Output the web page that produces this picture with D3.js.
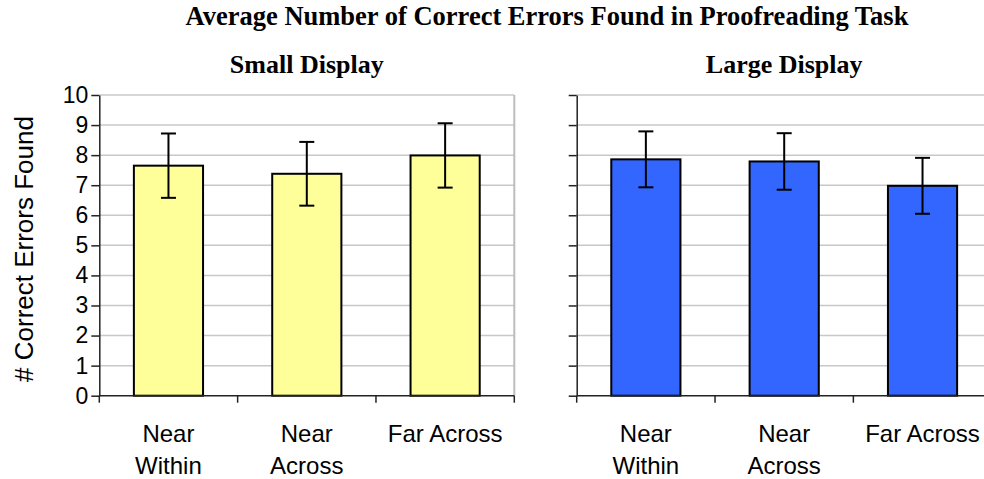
<!DOCTYPE html>
<html>
<head>
<meta charset="utf-8">
<script src="https://cdn.jsdelivr.net/npm/d3@7"></script>
<style>
  html, body { margin: 0; padding: 0; background: #fff; overflow: hidden; }
  svg { display: block; }
</style>
</head>
<body>
<svg id="chart" width="984" height="479"></svg>
<script>
// Mean number of correct errors found, with error-bar half-widths, per display size
const categories = ["Near Within", "Near Across", "Far Across"];
const categoryLines = [["Near", "Within"], ["Near", "Across"], ["Far Across"]];
const smallMeans = [7.65, 7.38, 7.99];
const smallErrors = [1.07, 1.06, 1.07];
const largeMeans = [7.86, 7.79, 6.98];
const largeErrors = [0.93, 0.94, 0.93];
const yTicks = [0, 1, 2, 3, 4, 5, 6, 7, 8, 9, 10];

const chartTitle = "Average Number of Correct Errors Found in Proofreading Task";
const yAxisTitle = "# Correct Errors Found";

const panels = [
  { title: "Small Display", means: smallMeans, errors: smallErrors, fill: "#FFFF99",
    x0: 99.3, x1: 514.3, showTickLabels: true },
  { title: "Large Display", means: largeMeans, errors: largeErrors, fill: "#3366FF",
    x0: 576.7, x1: 991.7, showTickLabels: false }
];

const svg = d3.select("#chart");
const plotTop = 95, plotBottom = 395.7;
const y = d3.scaleLinear().domain([0, 10]).range([plotBottom, plotTop]);

const sans = "'Liberation Sans', Arial, sans-serif";
const serif = "'Liberation Serif', 'Times New Roman', serif";

// Overall title
svg.append("text")
  .attr("x", 547).attr("y", 25)
  .attr("text-anchor", "middle")
  .attr("font-family", serif).attr("font-weight", "bold").attr("font-size", 26.5)
  .text(chartTitle);

// Y-axis title
svg.append("text")
  .attr("transform", "translate(33,249) rotate(-90)")
  .attr("text-anchor", "middle")
  .attr("font-family", sans).attr("font-size", 26)
  .text(yAxisTitle);

panels.forEach(p => {
  const g = svg.append("g");
  const x = d3.scaleBand()
    .domain(categories)
    .range([p.x0, p.x1])
    .paddingInner(0.5)
    .paddingOuter(0.25);
  const step = x.step();

  // Panel title
  g.append("text")
    .attr("x", (p.x0 + p.x1) / 2).attr("y", 73)
    .attr("text-anchor", "middle")
    .attr("font-family", serif).attr("font-weight", "bold").attr("font-size", 26)
    .text(p.title);

  // Horizontal gridlines (1..10; 10 doubles as the top border)
  g.selectAll("line.grid")
    .data(yTicks.filter(t => t > 0))
    .join("line")
    .attr("class", "grid")
    .attr("x1", p.x0).attr("x2", p.x1)
    .attr("y1", d => y(d)).attr("y2", d => y(d))
    .attr("stroke", "#c8c8c8").attr("stroke-width", 1.5);

  // Right border of plot area
  g.append("line")
    .attr("x1", p.x1).attr("x2", p.x1)
    .attr("y1", plotTop).attr("y2", plotBottom)
    .attr("stroke", "#bdbdbd").attr("stroke-width", 2);

  // Bars
  g.selectAll("rect.bar")
    .data(p.means)
    .join("rect")
    .attr("class", "bar")
    .attr("x", (d, i) => x(categories[i]))
    .attr("width", x.bandwidth())
    .attr("y", d => y(d))
    .attr("height", d => y(0) - y(d))
    .attr("fill", p.fill)
    .attr("stroke", "#000").attr("stroke-width", 2);

  // Error bars
  const capHalf = 7.5;
  p.means.forEach((m, i) => {
    const cx = x(categories[i]) + x.bandwidth() / 2;
    const e = p.errors[i];
    const eg = g.append("g").attr("stroke", "#000").attr("stroke-width", 2);
    eg.append("line").attr("x1", cx).attr("x2", cx).attr("y1", y(m + e)).attr("y2", y(m - e));
    eg.append("line").attr("x1", cx - capHalf).attr("x2", cx + capHalf).attr("y1", y(m + e)).attr("y2", y(m + e));
    eg.append("line").attr("x1", cx - capHalf).attr("x2", cx + capHalf).attr("y1", y(m - e)).attr("y2", y(m - e));
  });

  // Y axis with ticks
  const yAxis = d3.axisLeft(y).tickValues(yTicks).tickSize(8).tickSizeOuter(0)
    .tickFormat(p.showTickLabels ? d3.format("d") : () => "");
  const ya = g.append("g").attr("transform", `translate(${p.x0},0)`).call(yAxis);
  ya.select(".domain").attr("stroke", "#222").attr("stroke-width", 1.5);
  ya.selectAll(".tick line").attr("stroke", "#222").attr("stroke-width", 1.5);
  ya.selectAll(".tick text")
    .attr("x", -11)
    .attr("font-family", sans).attr("font-size", 23).attr("fill", "#000");

  // X axis: baseline with tick marks at category boundaries
  g.append("line")
    .attr("x1", p.x0).attr("x2", p.x1)
    .attr("y1", y(0)).attr("y2", y(0))
    .attr("stroke", "#222").attr("stroke-width", 1.5);
  g.selectAll("line.xtick")
    .data(d3.range(categories.length + 1))
    .join("line")
    .attr("class", "xtick")
    .attr("x1", i => p.x0 + i * step).attr("x2", i => p.x0 + i * step)
    .attr("y1", y(0)).attr("y2", y(0) + 7)
    .attr("stroke", "#222").attr("stroke-width", 1.5);

  // Category labels
  categoryLines.forEach((lines, i) => {
    const cx = x(categories[i]) + x.bandwidth() / 2;
    const t = g.append("text")
      .attr("text-anchor", "middle")
      .attr("font-family", sans).attr("font-size", 24).attr("fill", "#000");
    lines.forEach((ln, k) => {
      t.append("tspan").attr("x", cx).attr("y", 441.5 + k * 32.7).text(ln);
    });
  });
});
</script>
</body>
</html>
